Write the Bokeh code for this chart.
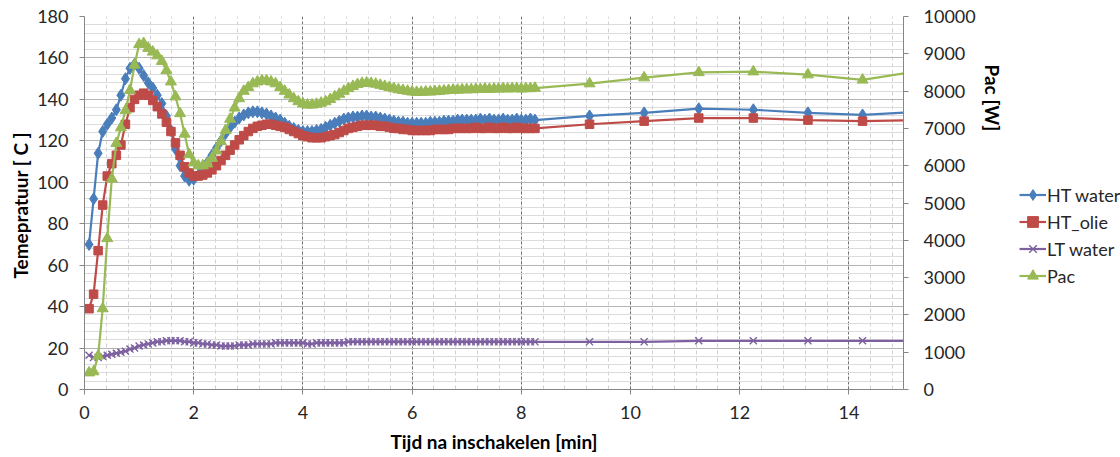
from bokeh.plotting import figure
from bokeh.layouts import row
from bokeh.models import (ColumnDataSource, Range1d, LinearAxis, SingleIntervalTicker,
                          Legend, LegendItem, Title)
from bokeh.embed import file_html
from bokeh.resources import INLINE

# ---- data -------------------------------------------------------------
# sample times in seconds: every 5 s up to 495 s, then once per minute
t_sec = [5 * k for k in range(1, 100)] + [555, 615, 675, 735, 795, 855, 915]
t_min = [s / 60.0 for s in t_sec]

ht_water = [70, 92, 114, 124.5, 128, 131, 135, 142, 150, 155,
            157, 155, 151.5, 148, 145.5, 142, 138, 132, 125, 116,
            108, 103, 101, 101.5, 103.5, 106, 109.5, 113, 116.5, 120,
            123.5, 126.5, 129, 131, 132.5, 133.5, 134, 134, 133.5, 133,
            132, 131, 130, 128.5, 127, 126, 125, 124.5, 124.5, 124.5,
            125, 125.5, 126.5, 127.5, 128.5, 129.5, 130.5, 131, 131.5, 131.5,
            132, 132, 131.5, 131.5, 131, 130.5, 130, 129.5, 129, 129,
            128.5, 128.5, 128.5, 128.5, 128.5, 129, 129, 129, 129.5, 129.5,
            129.5, 130, 130, 130, 130, 130, 130.5, 130, 130.5, 130,
            130, 130.5, 130, 130, 130.5, 130, 130, 130.5, 130,
            132, 133.5, 135.5, 135, 133.5, 132.5, 134]

ht_olie = [39, 46, 67, 89, 103, 109, 113, 118, 128, 136,
           140, 142, 143, 142, 139.5, 136.5, 133, 129, 124.5, 119,
           113, 107.5, 104.5, 103, 103, 103.5, 104.5, 106, 108, 110.5,
           113, 115.5, 118, 120.5, 122.5, 124.5, 126, 127, 127.5, 128,
           128, 127.5, 127, 126.5, 125.5, 124.5, 123.5, 122.5, 122, 121.5,
           121.5, 121.5, 122, 122.5, 123, 124, 125, 126, 126.5, 127,
           127.5, 127.5, 127.5, 127.5, 127, 127, 126.5, 126, 126, 125.5,
           125.5, 125, 125, 125, 125, 125, 125.5, 125.5, 125.5, 125.5,
           126, 126, 126, 126, 126, 126.5, 126, 126, 126.5, 126,
           126, 126.5, 126, 126, 126.5, 126, 126, 126, 126,
           128, 129.5, 131, 131, 130, 129.5, 130]

lt_water = [16.5, 15.5, 15.5, 16, 16.5, 17, 17.5, 18, 18.5, 19.5,
            20, 21, 21.5, 22, 22.5, 23, 23, 23.5, 23.5, 23.5,
            23.5, 23, 23, 22.5, 22.5, 22, 22, 21.5, 21.5, 21,
            21, 21, 21, 21.5, 21.5, 21.5, 22, 22, 22, 22,
            22, 22.5, 22.5, 22.5, 22.5, 22.5, 22.5, 22.5, 22, 22,
            22.5, 22.5, 22.5, 22.5, 22.5, 22.5, 22.5, 23, 23, 23,
            23, 23, 23, 23, 23, 23, 23, 23, 23, 23,
            23, 23, 23, 23, 23, 23, 23, 23, 23, 23,
            23, 23, 23, 23, 23, 23, 23, 23, 23, 23,
            23, 23, 23, 23, 23, 23, 23, 23, 23,
            23, 23, 23.5, 23.5, 23.5, 23.5, 23.5]

pac = [450, 480, 900, 2170, 4050, 5650, 6600, 7020, 7480, 8020,
       8700, 9250, 9280, 9150, 9050, 8950, 8800, 8550, 8250, 7850,
       7400, 6850, 6300, 6080, 6000, 6000, 6050, 6200, 6400, 6650,
       6950, 7250, 7550, 7800, 8000, 8100, 8200, 8250, 8280, 8280,
       8250, 8200, 8100, 8000, 7900, 7800, 7720, 7660, 7630, 7630,
       7650, 7680, 7720, 7780, 7850, 7920, 8000, 8070, 8130, 8180,
       8210, 8220, 8210, 8190, 8160, 8130, 8100, 8070, 8040, 8020,
       8000, 7980, 7970, 7970, 7980, 7980, 7990, 8000, 8010, 8020,
       8030, 8030, 8040, 8040, 8040, 8050, 8050, 8060, 8050, 8060,
       8060, 8070, 8060, 8070, 8070, 8060, 8070, 8070, 8080,
       8200, 8360, 8500, 8520, 8440, 8300, 8530]

x_ticks_interval = 2
y_left_interval = 20
y_right_interval = 1000
series_names = ["HT water", "HT_olie", "LT water", "Pac"]

# ---- figure -----------------------------------------------------------
src = ColumnDataSource(dict(t=t_min, hw=ht_water, ho=ht_olie, lw=lt_water, pac=pac))

FONT = "Lato"
TXT = "#262626"
FS = "18px"
FT = "19px"

p = figure(width=1007, height=457, x_range=Range1d(0, 15), y_range=Range1d(0, 180),
           output_backend="svg", toolbar_location=None,
           min_border_left=84, min_border_right=98, min_border_top=16, min_border_bottom=68)
p.extra_y_ranges = {"pac": Range1d(0, 10000)}
p.outline_line_color = None
p.background_fill_color = "white"
p.border_fill_color = "white"

xt = SingleIntervalTicker(interval=x_ticks_interval, num_minor_ticks=5)
yt = SingleIntervalTicker(interval=y_left_interval, num_minor_ticks=5)
p.xaxis.ticker = xt
p.yaxis.ticker = yt
p.xgrid.ticker = xt
p.ygrid.ticker = yt

p.xgrid.grid_line_color = "#707070"
p.xgrid.grid_line_dash = "3 2"
p.xgrid.minor_grid_line_color = "#D0D0D0"
p.xgrid.minor_grid_line_dash = "4 3"
p.ygrid.grid_line_color = "#B4B4B4"
p.ygrid.minor_grid_line_color = "#DCDCDC"

for ax in (p.xaxis[0], p.yaxis[0]):
    ax.axis_line_color = "#868686"
    ax.major_tick_line_color = "#868686"
    ax.major_tick_in = 0
    ax.major_tick_out = 5
    ax.minor_tick_line_color = None
    ax.major_label_text_font = FONT
    ax.major_label_text_font_size = FS
    ax.major_label_text_color = TXT
    ax.axis_label_text_font = FONT
    ax.axis_label_text_font_size = FT
    ax.axis_label_text_font_style = "bold"
    ax.axis_label_text_color = "black"

p.xaxis.axis_label = "Tijd na inschakelen [min]"
p.xaxis.major_label_standoff = 11
p.xaxis.axis_label_standoff = 8
p.yaxis.axis_label = "Temepratuur  [ C ]"
p.yaxis.major_label_standoff = 11
p.yaxis.axis_label_standoff = 2

rax = LinearAxis(y_range_name="pac",
                 ticker=SingleIntervalTicker(interval=y_right_interval, num_minor_ticks=2))
rax.axis_line_color = "#868686"
rax.major_tick_line_color = "#868686"
rax.major_tick_in = 0
rax.major_tick_out = 5
rax.minor_tick_line_color = None
rax.major_label_text_font = FONT
rax.major_label_text_font_size = FS
rax.major_label_text_color = TXT
rax.major_label_standoff = 15
p.add_layout(rax, "right")

rtitle = Title(text="Pac  [W]", align="left", offset=48, text_font=FONT, text_font_size=FT,
               text_font_style="bold", text_color="black", standoff=4)
p.add_layout(rtitle, "right")

# ---- series -----------------------------------------------------------
C_BLUE, C_RED, C_PURP, C_GREEN = "#4A7EBB", "#BE4B48", "#7D60A0", "#98B954"
STY = [
    dict(color=C_BLUE, marker="diamond", size=12),
    dict(color=C_RED, marker="square", size=8.5),
    dict(color=C_PURP, marker="x", size=10),
    dict(color=C_GREEN, marker="triangle", size=11),
]
cols = ["hw", "ho", "lw", "pac"]


def add_series(fig, col, sty, source, **kw):
    ln = fig.line("t", col, source=source, line_color=sty["color"], line_width=2.2, **kw)
    mk = fig.scatter("t", col, source=source, marker=sty["marker"],
                     size=sty["size"], fill_color=sty["color"], line_color=sty["color"],
                     line_width=1.4 if sty["marker"] == "x" else 1, **kw)
    return ln, mk


for col, sty in zip(cols, STY):
    kw = {"y_range_name": "pac"} if col == "pac" else {}
    add_series(p, col, sty, src, **kw)

# ---- legend panel (separate narrow figure to the right) ---------------
# Its renderers share the same data, but its ranges show none of it: only the legend is seen.
leg = figure(width=113, height=457, x_range=Range1d(-2, -1), y_range=Range1d(-2, -1),
             output_backend="svg", toolbar_location=None, min_border=0)
leg.axis.visible = False
leg.grid.visible = False
leg.outline_line_color = None
leg.background_fill_color = "white"
leg.border_fill_color = "white"

items = []
for name, col, sty in zip(series_names, cols, STY):
    ln, mk = add_series(leg, col, sty, src)
    items.append(LegendItem(label=name, renderers=[ln, mk]))

legend = Legend(items=items, location=(12, 100))
legend.border_line_color = None
legend.background_fill_alpha = 0
legend.padding = 0
legend.margin = 0
legend.spacing = 0
legend.glyph_width = 27
legend.glyph_height = 27
legend.label_height = 27
legend.label_standoff = 1
legend.label_text_font = FONT
legend.label_text_font_size = "18px"
legend.label_text_color = TXT
leg.add_layout(legend, "center")

layout = row(p, leg)
open("out.html", "w").write(file_html(layout, INLINE))
